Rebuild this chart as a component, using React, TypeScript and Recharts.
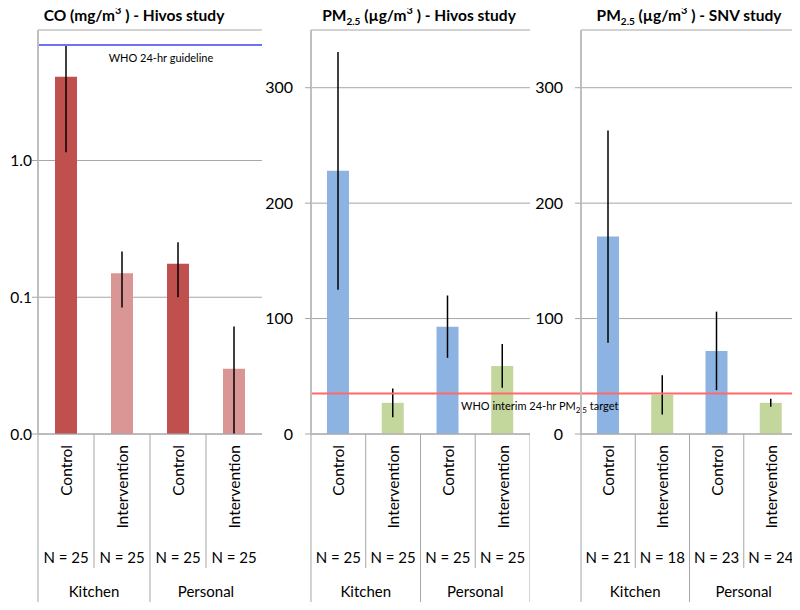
import React from 'react';
import {
  ComposedChart,
  Bar,
  Cell,
  ErrorBar,
  XAxis,
  YAxis,
  CartesianGrid,
  ReferenceLine,
} from 'recharts';

const conditions = ['Control', 'Intervention', 'Control', 'Intervention'];
const settings = ['Kitchen', 'Kitchen', 'Personal', 'Personal'];

// CO, Hivos study (mg/m3), log axis
const coMeans = [4.1, 0.15, 0.176, 0.03];
const coErr = [2.95, 0.066, 0.076, 0.031];
const hivosN = [25, 25, 25, 25];
const coGuideline = 7;
const coTicks = [0.01, 0.1, 1];

// PM2.5 (ug/m3)
const hivosPmMeans = [228, 27, 93, 59];
const hivosPmErr = [103, 12.5, 27, 19];
const snvPmMeans = [171, 34, 72, 27];
const snvPmErr = [92, 17, 34, 3.5];
const snvN = [21, 18, 23, 24];
const pmTarget = 35;
const pmTicks = [0, 100, 200, 300];

const FONT = 'Lato, "Open Sans", sans-serif';
const H = 610;
const TOP = 30;
const BOTTOM = 434;
const AX_H = H - BOTTOM;

const coColors = ['#C0504D', '#D99694', '#C0504D', '#D99694'];
const pmColors = ['#8DB3E2', '#C3D69B', '#8DB3E2', '#C3D69B'];

function buildRows(means: number[], errs: number[], ns: number[], floor: number) {
  return conditions.map((c, i) => ({
    key: `${settings[i]}-${c}`,
    cond: c,
    setting: settings[i],
    n: ns[i],
    mean: means[i],
    err: [Math.min(errs[i], means[i] - floor), errs[i]],
  }));
}

const coRows = buildRows(coMeans, coErr, hivosN, 0.01);
const hivosRows = buildRows(hivosPmMeans, hivosPmErr, hivosN, 0);
const snvRows = buildRows(snvPmMeans, snvPmErr, snvN, 0);

function makeTick(rows: any[], half: number, rightEdge: boolean) {
  return (props: any) => {
    const { x, payload } = props;
    const i = payload.index ?? props.index;
    const row = rows[i];
    const grpStart = i % 2 === 0;
    return (
      <g>
        <line x1={x - half} x2={x - half} y1={BOTTOM} y2={grpStart ? 604 : 568} stroke="#A6A6A6" />
        {rightEdge && i === rows.length - 1 && (
          <line x1={x + half} x2={x + half} y1={BOTTOM} y2={604} stroke="#A6A6A6" />
        )}
        <text
          x={x}
          y={445}
          transform={`rotate(-90, ${x}, 445)`}
          textAnchor="end"
          dominantBaseline="central"
          fontSize={15.5}
          fill="#000"
          fontFamily={FONT}
        >
          {row.cond}
        </text>
        <text x={x} y={563} textAnchor="middle" fontSize={15} fill="#000" fontFamily={FONT}>
          N = {row.n}
        </text>
        {grpStart && (
          <text x={x + half} y={597} textAnchor="middle" fontSize={15} fill="#000" fontFamily={FONT}>
            {row.setting}
          </text>
        )}
      </g>
    );
  };
}

const sup = { fontSize: 11, lineHeight: 0, position: 'relative' as const, top: -1 };
const sub = { fontSize: 10, lineHeight: 0 };

function Title({ cx, children }: { cx: number; children: React.ReactNode }) {
  return (
    <div
      style={{
        position: 'absolute',
        left: cx - 150,
        top: 5,
        width: 300,
        lineHeight: '20px',
        textAlign: 'center',
        fontWeight: 'bold',
        fontSize: 15.5,
        fontFamily: FONT,
        color: '#000',
      }}
    >
      {children}
    </div>
  );
}

export default function App() {
  return (
    <div style={{ position: 'relative', width: 800, height: H, margin: -8, fontFamily: FONT }}>
      <Title cx={134}>
        CO (mg/m<sup style={sup}>3</sup> ) - Hivos study
      </Title>
      <Title cx={419}>
        PM<sub style={sub}>2.5</sub> (µg/m<sup style={sup}>3</sup> ) - Hivos study
      </Title>
      <Title cx={689}>
        PM<sub style={sub}>2.5</sub> (µg/m<sup style={sup}>3</sup> ) - SNV study
      </Title>

      {/* CO panel */}
      <div style={{ position: 'absolute', left: 0, top: 0 }}>
        <ComposedChart width={265} height={H} data={coRows} margin={{ top: TOP, right: 3, bottom: 0, left: 0 }}>
          <CartesianGrid vertical={false} stroke="#A6A6A6" />
          <XAxis
            dataKey="key"
            interval={0}
            height={AX_H}
            tickLine={false}
            axisLine={{ stroke: '#A6A6A6' }}
            tick={makeTick(coRows, 28, false)}
          />
          <YAxis
            scale="log"
            domain={[0.01, 9]}
            ticks={coTicks}
            allowDataOverflow
            width={38}
            tickSize={6}
            tickMargin={0}
            tickFormatter={(v: number) => (v < 0.05 ? '0.0' : v.toFixed(1))}
            axisLine={{ stroke: '#BFBFBF', strokeWidth: 2 }}
            tickLine={{ stroke: '#A6A6A6' }}
            tick={{ fill: '#000', fontSize: 15.5, fontFamily: FONT }}
          />
          <Bar dataKey="mean" barSize={22} isAnimationActive={false}>
            {coRows.map((r, i) => (
              <Cell key={r.key} fill={coColors[i]} />
            ))}
            <ErrorBar dataKey="err" width={0} stroke="#000" strokeWidth={1.5} direction="y" />
          </Bar>
          <ReferenceLine
            y={coGuideline}
            stroke="#7070F5"
            strokeWidth={2}
            label={(p: any) => (
              <text
                x={p.viewBox.x + p.viewBox.width / 2 + 11}
                y={p.viewBox.y + 17}
                textAnchor="middle"
                fontSize={11}
                fill="#000"
                fontFamily={FONT}
              >
                WHO 24-hr guideline
              </text>
            )}
          />
        </ComposedChart>
      </div>

      {/* PM2.5 Hivos panel */}
      <div style={{ position: 'absolute', left: 262, top: 0 }}>
        <ComposedChart width={268} height={H} data={hivosRows} margin={{ top: TOP, right: 0, bottom: 0, left: 0 }}>
          <CartesianGrid vertical={false} stroke="#A6A6A6" />
          <XAxis
            dataKey="key"
            interval={0}
            height={AX_H}
            tickLine={false}
            axisLine={{ stroke: '#A6A6A6' }}
            tick={makeTick(hivosRows, 27.4, true)}
          />
          <YAxis
            domain={[0, 350]}
            ticks={pmTicks}
            allowDataOverflow
            width={49}
            tickSize={6}
            tickMargin={12}
            axisLine={{ stroke: '#BFBFBF', strokeWidth: 2 }}
            tickLine={{ stroke: '#A6A6A6' }}
            tick={{ fill: '#000', fontSize: 16, fontFamily: FONT }}
          />
          <Bar dataKey="mean" barSize={22} isAnimationActive={false}>
            {hivosRows.map((r, i) => (
              <Cell key={r.key} fill={pmColors[i]} />
            ))}
            <ErrorBar dataKey="err" width={0} stroke="#000" strokeWidth={1.5} direction="y" />
          </Bar>
          <ReferenceLine y={pmTarget} stroke="#FF6B6B" strokeWidth={2} />
        </ComposedChart>
      </div>

      {/* PM2.5 SNV panel */}
      <div style={{ position: 'absolute', left: 440, top: 0 }}>
        <ComposedChart width={360} height={H} data={snvRows} margin={{ top: TOP, right: 2, bottom: 0, left: 90 }}>
          <CartesianGrid vertical={false} stroke="#A6A6A6" />
          <XAxis
            dataKey="key"
            interval={0}
            height={AX_H}
            tickLine={false}
            axisLine={{ stroke: '#A6A6A6' }}
            tick={makeTick(snvRows, 27.1, false)}
          />
          <YAxis
            domain={[0, 350]}
            ticks={pmTicks}
            allowDataOverflow
            width={51}
            tickSize={6}
            tickMargin={12}
            axisLine={{ stroke: '#BFBFBF', strokeWidth: 2 }}
            tickLine={{ stroke: '#A6A6A6' }}
            tick={{ fill: '#000', fontSize: 16, fontFamily: FONT }}
          />
          <Bar dataKey="mean" barSize={22} isAnimationActive={false}>
            {snvRows.map((r, i) => (
              <Cell key={r.key} fill={pmColors[i]} />
            ))}
            <ErrorBar dataKey="err" width={0} stroke="#000" strokeWidth={1.5} direction="y" />
          </Bar>
          <ReferenceLine
            y={pmTarget}
            stroke="#FF6B6B"
            strokeWidth={2}
            shape={(p: any) => <line x1={p.x1 - 51} x2={p.x2} y1={p.y1} y2={p.y2} stroke="#FF6B6B" strokeWidth={2} />}
            label={(p: any) => (
              <text x={p.viewBox.x - 120} y={p.viewBox.y + 16} fontSize={11} fill="#000" fontFamily={FONT}>
                WHO interim 24-hr PM
                <tspan dy={3} fontSize={8}>
                  2.5
                </tspan>
                <tspan dy={-3}> target</tspan>
              </text>
            )}
          />
        </ComposedChart>
      </div>
    </div>
  );
}
